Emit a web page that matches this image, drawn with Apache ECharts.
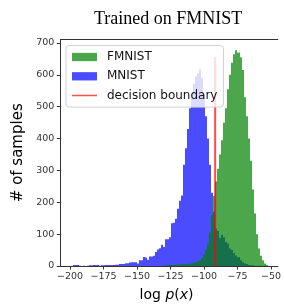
<!DOCTYPE html>
<html>
<head>
<meta charset="utf-8">
<script src="https://cdn.jsdelivr.net/npm/echarts@6/dist/echarts.min.js"></script>
<style>
  html, body { margin: 0; padding: 0; background: #fff; }
  #chart { width: 284px; height: 307px; }
</style>
</head>
<body>
<div id="chart"></div>
<script>
// histogram bins (shared width), left edges and counts
var binWidth = 1.5;
var mnistStart = -198;
var mnistCounts = [
  3, 3, 3, 1, 0, 1, 0, 1, 2, 2, 3, 3, 3, 1, 2, 2, 3, 3, 3, 3,
  3, 4, 4, 6, 6, 6, 9, 9, 11, 12, 12, 12, 8, 18, 18, 28, 27, 20, 30, 30,
  32, 44, 52, 56, 67, 60, 84, 84, 90, 134, 136, 148, 180, 205, 221, 318, 370, 430, 495, 540,
  572, 596, 606, 618, 590, 540, 470, 400, 318, 230, 170, 118, 110, 88, 98, 90, 75, 70, 55, 50,
  40, 33, 28, 18, 12, 8, 6, 3, 2, 2, 1, 1, 1, 1, 0, 1
];
var fmnistStart = -132;
var fmnistCounts = [
  1, 1, 3, 2, 3, 3, 4, 5, 5, 5, 6, 5, 6, 6, 7, 8, 10, 12, 15, 18,
  26, 35, 51, 70, 105, 160, 220, 265, 305, 350, 395, 450, 495, 555, 600, 638, 665, 677, 670, 655,
  615, 530, 470, 400, 330, 240, 165, 100, 55, 32, 18, 8, 3
];
var boundaryX = -91.7;
var boundaryTop = 655;

var xTicks = [-200, -175, -150, -125, -100, -75, -50];
var yTicks = [0, 100, 200, 300, 400, 500, 600, 700];

function toBins(start, counts) {
  return counts.map(function (c, i) {
    return [start + i * binWidth, start + (i + 1) * binWidth, c];
  });
}

function renderHist(params, api) {
  var p0 = api.coord([api.value(0), api.value(2)]);
  var p1 = api.coord([api.value(1), 0]);
  var x0 = Math.round(p0[0]);
  var x1 = Math.round(p1[0]);
  return {
    type: "rect",
    shape: { x: x0, y: p0[1], width: x1 - x0, height: p1[1] - p0[1] },
    style: { fill: api.visual("color") },
  };
}

function minusLabel(v) {
  return v < 0 ? "\u2212" + Math.abs(v) : String(v);
}

var tickFont = { fontFamily: "DejaVu Sans", fontSize: 9.5, color: "#333" };

// thin horizontal bar inside a 25 x 8.3 box, for the line entry of the legend
var lineIcon =
  "path://M0,0L0.01,0L0.01,0.01Z M0,3.4L25,3.4L25,4.9L0,4.9Z M24.99,8.29L25,8.29L25,8.3Z";

var chart = echarts.init(document.getElementById("chart"), null, { renderer: "canvas" });

chart.setOption({
  animation: false,
  backgroundColor: "#fff",
  title: {
    text: "Trained on FMNIST",
    left: 89,
    top: 5,
    textStyle: {
      fontFamily: "Liberation Serif",
      fontSize: 18,
      fontWeight: "normal",
      color: "#000",
    },
  },
  grid: { left: 60.3, right: 0, top: 39.5, bottom: 37 },
  legend: {
    orient: "vertical",
    left: 66,
    top: 45.5,
    z: 10,
    padding: [5.5, 6, 5.5, 6],
    itemWidth: 25,
    itemHeight: 8.3,
    itemGap: 7.3,
    backgroundColor: "rgba(255,255,255,0.8)",
    borderColor: "#d0d0d0",
    borderWidth: 1,
    borderRadius: 3,
    textStyle: {
      fontFamily: "DejaVu Sans",
      fontSize: 12,
      lineHeight: 12,
      color: "#111",
      padding: [0, 0, 0, 5],
    },
    data: [
      { name: "FMNIST", icon: "rect" },
      { name: "MNIST", icon: "rect" },
      { name: "decision boundary", icon: lineIcon },
    ],
  },
  xAxis: [
    {
      type: "value",
      min: -207.3,
      max: -44.9,
      name: "{a|log }{b|p}{a|(}{b|x}{a|)}",
      nameLocation: "middle",
      nameGap: 22,
      nameTextStyle: {
        padding: [0, 5, 0, 0],
        rich: {
          a: { fontFamily: "DejaVu Sans", fontSize: 14, color: "#000" },
          b: { fontFamily: "DejaVu Sans", fontSize: 14, fontStyle: "italic", color: "#000" },
        },
      },
      splitLine: { show: false },
      axisLine: { show: true, onZero: false, lineStyle: { color: "#333", width: 1 } },
      axisTick: { show: true, length: 3.5, customValues: xTicks, lineStyle: { color: "#333" } },
      axisLabel: Object.assign({ margin: 6, customValues: xTicks, formatter: minusLabel }, tickFont),
    },
    {
      type: "value",
      position: "top",
      min: -207.3,
      max: -44.9,
      splitLine: { show: false },
      axisLine: { show: true, onZero: false, lineStyle: { color: "#333", width: 1 } },
      axisTick: { show: false },
      axisLabel: { show: false },
    },
  ],
  yAxis: {
    type: "value",
    min: 0,
    max: 711,
    name: "# of samples",
    nameLocation: "middle",
    nameGap: 28,
    nameTextStyle: { fontFamily: "DejaVu Sans", fontSize: 15, color: "#000" },
    splitLine: { show: false },
    axisLine: { show: true, lineStyle: { color: "#333", width: 1 } },
    axisTick: { show: true, length: 3.5, customValues: yTicks, lineStyle: { color: "#333" } },
    axisLabel: Object.assign({ margin: 6, customValues: yTicks }, tickFont),
  },
  series: [
    {
      name: "MNIST",
      type: "custom",
      renderItem: renderHist,
      itemStyle: { color: "rgba(0,0,255,0.7)" },
      encode: { x: [0, 1], y: 2 },
      data: toBins(mnistStart, mnistCounts),
    },
    {
      name: "FMNIST",
      type: "custom",
      renderItem: renderHist,
      itemStyle: { color: "rgba(0,128,0,0.7)" },
      encode: { x: [0, 1], y: 2 },
      data: toBins(fmnistStart, fmnistCounts),
    },
    {
      name: "decision boundary",
      type: "line",
      symbol: "none",
      lineStyle: { color: "rgba(255,0,0,0.7)", width: 2 },
      itemStyle: { color: "rgba(255,0,0,0.7)" },
      data: [
        [boundaryX, 0],
        [boundaryX, boundaryTop],
      ],
    },
  ],
});
</script>
</body>
</html>
